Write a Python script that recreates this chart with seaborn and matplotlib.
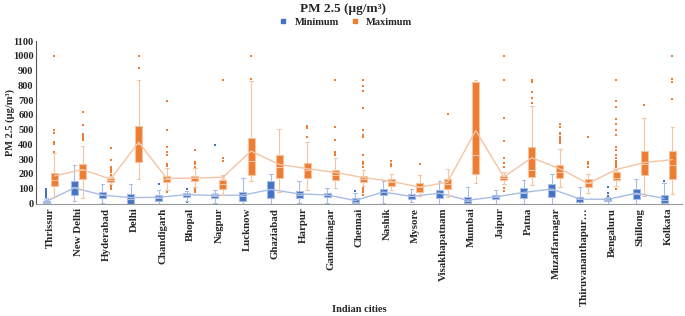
import numpy as np
import pandas as pd
import seaborn as sns
import matplotlib.pyplot as plt
from matplotlib.lines import Line2D

cities = ['Thrissur', 'New Delhi', 'Hyderabad', 'Delhi', 'Chandigarh', 'Bhopal', 'Nagpur',
          'Lucknow', 'Ghaziabad', 'Harpur', 'Gandhinagar', 'Chennai', 'Nashik', 'Mysore',
          'Visakhapatnam', 'Mumbai', 'Jaipur', 'Patna', 'Muzaffarnagar', 'Thiruvananthapur…',
          'Bengaluru', 'Shillong', 'Kolkata']

# Minimum PM2.5 - box stats per city
min_lo = [0, 20, 5, 0, 0, 20, 5, 0, 0, 5, 5, 0, 5, 10, 0, 0, 0, 0, 0, 0, 0, 0, 0]
min_q1 = [2, 57, 35, 0, 19, 46, 35, 19, 39, 35, 46, 1, 59, 30, 35, 1, 30, 35, 46, 12, 17, 30, 1]
min_med = [8, 113, 55, 30, 40, 60, 50, 50, 95, 60, 60, 12, 78, 50, 70, 20, 45, 70, 90, 30, 25, 65, 25]
min_q3 = [20, 153, 75, 64, 57, 70, 64, 80, 153, 86, 73, 35, 95, 62, 91, 46, 57, 102, 131, 46, 35, 95, 57]
min_hi = [35, 259, 129, 129, 91, 86, 90, 174, 203, 151, 102, 70, 151, 95, 155, 113, 91, 158, 200, 109, 45, 163, 140]
min_mean = [15, 105, 57, 40, 42, 60, 55, 57, 95, 65, 58, 20, 78, 48, 70, 22, 45, 75, 98, 30, 28, 70, 35]
min_out = [[40, 50, 60, 70, 78, 85, 92, 100], [], [], [], [130], [10, 100], [395], [], [], [], [],
           [86], [], [], [], [], [], [], [], [], [51, 69, 113], [], [152]]

# Maximum PM2.5 - box stats per city
max_lo = [45, 40, 135, 165, 90, 110, 60, 152, 77, 91, 102, 120, 90, 50, 45, 140, 135, 122, 113, 70, 120, 50, 64]
max_q1 = [118, 169, 147, 281, 145, 151, 100, 191, 176, 176, 158, 147, 118, 79, 100, 198, 158, 180, 173, 113, 158, 196, 165]
max_med = [158, 230, 160, 400, 168, 170, 135, 290, 245, 230, 192, 169, 145, 110, 130, 326, 175, 225, 215, 140, 175, 265, 259]
max_q3 = [209, 270, 170, 523, 187, 189, 158, 442, 330, 274, 230, 185, 163, 136, 165, 823, 185, 380, 263, 165, 210, 353, 353]
max_hi = [340, 390, 185, 836, 240, 240, 190, 830, 505, 415, 310, 225, 203, 192, 236, 835, 215, 660, 371, 203, 235, 577, 521]
max_mean = [187, 230, 165, 415, 170, 172, 178, 355, 265, 236, 210, 175, 150, 110, 145, 494, 180, 310, 235, 135, 230, 277, 297]
max_out = [[350, 405, 415, 475, 500, 1000],
           [430, 445, 460, 470, 530, 620],
           [95, 110, 122, 195, 210, 222, 235, 250, 295, 375],
           [920, 1000],
           [78, 255, 265, 330, 350, 385, 500, 695],
           [75, 88, 100, 250, 265, 280, 360],
           [290, 305, 835],
           [840, 845, 1000],
           [],
           [449, 511, 527],
           [326, 337, 348, 427, 516, 835],
           [60, 75, 90, 105, 250, 265, 280, 330, 450, 465, 500, 645, 760, 795, 835],
           [254, 270, 288],
           [265],
           [606],
           [],
           [85, 107, 248, 277, 309, 421, 578, 835, 1000],
           [683, 712, 757, 824, 835],
           [410, 425, 440, 450, 470, 480, 520, 540],
           [250, 265, 280, 450],
           [100, 245, 260, 275, 290, 305, 330, 365, 382, 465, 495, 540, 570, 655, 695, 835],
           [667],
           [705, 826, 840, 1000]]

series = [
    ('Minimum', -0.145, '#4472C4', '#A9BDE3', (min_lo, min_q1, min_med, min_q3, min_hi), min_mean, min_out),
    ('Maximum', 0.145, '#ED7D31', '#F5C4A3', (max_lo, max_q1, max_med, max_q3, max_hi), max_mean, max_out),
]

sns.set_style('white')
plt.rcParams['font.family'] = ['Liberation Serif', 'DejaVu Serif']
plt.rcParams['font.weight'] = 'bold'

fig = plt.figure(figsize=(6.85, 3.16), dpi=100)
ax = fig.add_axes([0.053, 0.356, 0.943, 0.514])

idx = np.arange(len(cities))
for name, shift, dark, light, stats, means, outs in series:
    pos = idx + shift
    # five summary values per city -> quartiles come out exactly, whiskers at min/max
    box_df = pd.DataFrame({'pos': np.repeat(pos, 5), 'pm': np.column_stack(stats).ravel()})
    sns.boxplot(data=box_df, x='pos', y='pm', native_scale=True, orient='x', width=0.25,
                whis=(0, 100), showfliers=False, color=dark, saturation=1, linecolor=light,
                linewidth=0.8, medianprops=dict(color=light, linewidth=0.8), ax=ax)
    out_df = pd.DataFrame({'pos': [p for p, o in zip(pos, outs) for _ in o],
                           'pm': [v for o in outs for v in o]})
    sns.scatterplot(data=out_df, x='pos', y='pm', marker='s', s=4, color=dark,
                    linewidth=0, ax=ax)
    sns.lineplot(x=pos, y=means, color=light, linewidth=1.0, sort=False, ax=ax)
    sns.scatterplot(x=pos, y=means, marker='x', s=12, color=light, linewidth=0.7, ax=ax)

ax.set_xlim(-0.5, len(cities) - 0.5)
ax.set_ylim(0, 1100)
ax.set_yticks(range(0, 1101, 100))
ax.set_xticks(idx)
ax.set_xticklabels(cities, rotation=90, fontsize=7.8, fontweight='bold')
ax.set_xticks(idx[:-1] + 0.5, minor=True)
ax.tick_params(axis='x', which='major', length=0, pad=3)
ax.tick_params(axis='x', which='minor', length=3, color='#999999', direction='out')
ax.tick_params(axis='y', labelsize=7.5, length=0, pad=2)
for lab in ax.get_yticklabels():
    lab.set_fontweight('bold')
ax.set_xlabel('')
ax.set_ylabel('')
for side in ['top', 'right']:
    ax.spines[side].set_visible(False)
ax.spines['left'].set_color('#555555')
ax.spines['bottom'].set_color('#999999')

fig.text(0.5, 0.973, 'PM 2.5 (µg/m³)', ha='center', va='center', fontsize=9.5, fontweight='bold')
fig.text(0.525, 0.022, 'Indian cities', ha='center', va='center', fontsize=7.5, fontweight='bold')
fig.text(0.015, 0.613, 'PM 2.5 (µg/m³)', ha='center', va='center', rotation=90,
         fontsize=7.5, fontweight='bold')

handles = [Line2D([], [], marker='s', linestyle='', color=s[2], markersize=3.5) for s in series]
fig.legend(handles, [s[0] for s in series], loc='center', bbox_to_anchor=(0.5, 0.93), ncol=2,
           frameon=False, fontsize=7.5, handletextpad=0.1, columnspacing=0.5,
           prop={'weight': 'bold', 'size': 7.5})

fig.savefig('out.png', dpi=100)
